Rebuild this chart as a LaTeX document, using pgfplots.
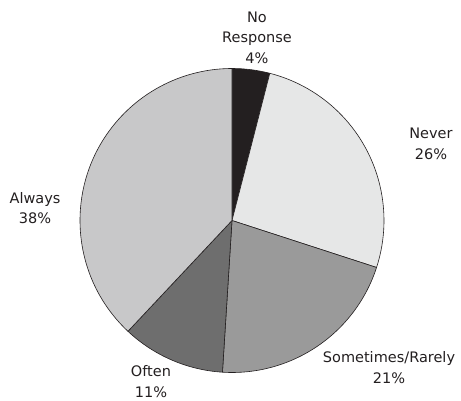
\documentclass[border=0pt]{standalone}
\usepackage{pgfplots}
\usepackage{pgfplotstable}
\pgfplotsset{compat=1.18}
\usepackage{fontspec}
\setmainfont{DejaVu Sans}

\definecolor{slice0}{HTML}{231F20}
\definecolor{slice1}{HTML}{E6E7E7}
\definecolor{slice2}{HTML}{9A9A9A}
\definecolor{slice3}{HTML}{6E6E6E}
\definecolor{slice4}{HTML}{C8C8C9}
\definecolor{edge}{HTML}{231F20}
\definecolor{labeltext}{HTML}{231F20}

% share of responses, clockwise from 12 o'clock
\pgfplotstableread{
pct
4
26
21
11
38
}\piedata

\begin{document}
\begin{tikzpicture}
\begin{axis}[
  scale only axis, width=461pt, height=400pt,
  xmin=0, xmax=461, ymin=0, ymax=400,
  hide axis, clip=false,
]
\path (axis cs:0,0) rectangle (axis cs:461,400);
\def\cx{232}\def\cy{179.5}\def\rad{152pt}
\pgfmathsetmacro\startangle{90}
\pgfplotsforeachungrouped \i in {0,...,4}{%
  \pgfplotstablegetelem{\i}{pct}\of\piedata
  \pgfmathsetmacro\endangle{\startangle-3.6*\pgfplotsretval}%
  \edef\wedge{\noexpand\filldraw[fill=slice\i, draw=edge, line width=0.6pt, line join=round]
    (axis cs:\cx,\cy) -- ++(\startangle:\rad)
    arc[start angle=\startangle, end angle=\endangle, radius=\rad] -- cycle;}%
  \wedge
  \global\let\startangle\endangle
}
\tikzset{lbl/.style={align=center, text=labeltext,
  font=\fontsize{14.5}{20.5}\selectfont}}
\node[lbl] at (axis cs:257,362.5) {No\\Response\\4\%};
\node[lbl] at (axis cs:431,256.2) {Never\\26\%};
\node[lbl] at (axis cs:389,32.6) {Sometimes/Rarely\\21\%};
\node[lbl] at (axis cs:151,18.3) {Often\\11\%};
\node[lbl] at (axis cs:35,192) {Always\\38\%};
\end{axis}
\end{tikzpicture}
\end{document}
